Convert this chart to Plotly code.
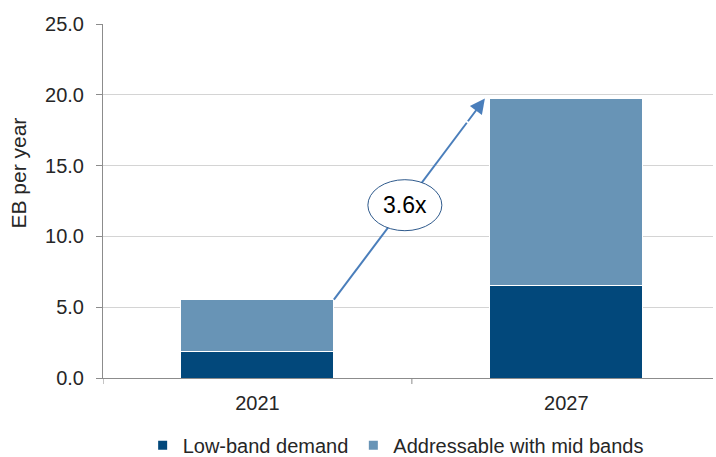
import plotly.graph_objects as go

categories = ["2021", "2027"]
low_band = [1.87, 6.54]
mid_band = [3.66, 13.19]
series_names = ["Low-band demand", "Addressable with mid bands"]
growth_label = "3.6x"
y_ticks = [0, 5, 10, 15, 20, 25]

DARK = "#02487b"
LIGHT = "#6894b6"
TXT = "#262626"
FONT = "Liberation Sans, Arial, sans-serif"

totals = [a + b for a, b in zip(low_band, mid_band)]
half_w = 0.2475

fig = go.Figure()
fig.add_trace(go.Bar(x=[0, 1], y=low_band, marker=dict(color=DARK, line=dict(color="white", width=1)),
                     width=2 * half_w, showlegend=False))
fig.add_trace(go.Bar(x=[0, 1], y=mid_band, marker=dict(color=LIGHT, line=dict(color="white", width=1)),
                     width=2 * half_w, showlegend=False))
for name, col in zip(series_names, [DARK, LIGHT]):
    fig.add_trace(go.Scatter(x=[None], y=[None], mode="markers", name=name,
                             marker=dict(symbol="square", size=9, color=col)))

# arrow geometry from data
x_tail, y_tail = 0 + half_w, totals[0]
x_head, y_head = 1 - half_w - 0.016, totals[1]
frac = 0.88
x_mid = x_tail + (x_head - x_tail) * frac
y_mid = y_tail + (y_head - y_tail) * frac
ARROW = "#4a7ebb"

fig.add_shape(type="line", xref="x", yref="y", x0=x_tail, y0=y_tail, x1=x_mid, y1=y_mid,
              line=dict(color=ARROW, width=2), layer="above")
ex = x_tail + (x_head - x_tail) * 0.47
ey = y_tail + (y_head - y_tail) * 0.47
fig.add_shape(type="circle", xref="x", yref="y", xsizemode="pixel", ysizemode="pixel",
              xanchor=ex, yanchor=ey, x0=-37, x1=37, y0=-25.5, y1=25.5,
              line=dict(color="#2f5a8c", width=1), fillcolor="white", layer="above")
fig.add_annotation(x=x_head, y=y_head, ax=x_mid, ay=y_mid, xref="x", yref="y", axref="x", ayref="y",
                   text="", showarrow=True, arrowhead=2, arrowsize=1.5, arrowwidth=2, arrowcolor=ARROW)
fig.add_annotation(x=ex, y=ey, xref="x", yref="y", text=growth_label, showarrow=False,
                   font=dict(size=23, color="#000000", family=FONT))
fig.add_annotation(x=-0.16, y=14.5, xref="paper", yref="y", text="EB per year", showarrow=False,
                   textangle=-90, font=dict(size=21, color=TXT, family=FONT))

fig.update_layout(
    width=716, height=457,
    margin=dict(l=103, r=3, t=24, b=78.5, autoexpand=False),
    paper_bgcolor="white", plot_bgcolor="white",
    barmode="stack",
    font=dict(family=FONT, size=20, color=TXT),
    legend=dict(orientation="h", x=0.065, y=-0.19, xanchor="left", yanchor="middle",
                traceorder="normal",
                font=dict(size=20, color=TXT, family=FONT), itemwidth=30),
)
fig.update_xaxes(range=[-0.5, 1.475], tickvals=[0, 1], ticktext=categories, showgrid=False,
                 showline=True, linecolor="#8c8c8c", linewidth=1, ticks="", zeroline=False,
                 ticklabelstandoff=7)
# boundary tick marks on x axis
for xb in [-0.5, 0.5]:
    fig.add_shape(type="line", xref="x", yref="paper", x0=xb, x1=xb, y0=0, y1=-0.017,
                  line=dict(color="#8c8c8c", width=1))
fig.update_yaxes(range=[0, 25], tickvals=y_ticks, ticktext=[f"{v:.1f}" for v in y_ticks],
                 showgrid=True, gridcolor="#d4d4d4", gridwidth=1, showline=True, linecolor="#8c8c8c",
                 linewidth=1, ticks="outside", ticklen=6, tickcolor="#8c8c8c", zeroline=False,
                 ticklabelstandoff=8)

fig.write_html("out.html")
